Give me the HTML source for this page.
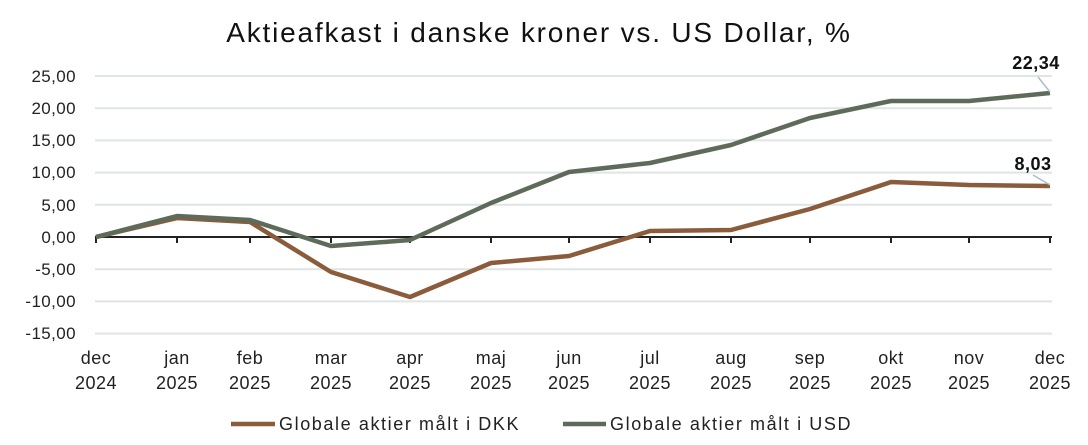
<!DOCTYPE html>
<html><head><meta charset="utf-8"><style>
body{margin:0;background:#fff}
svg{display:block;font-family:"Liberation Sans",sans-serif}
</style></head><body>
<svg width="1088" height="445" viewBox="0 0 1088 445">
<text x="539" y="42" font-size="28" letter-spacing="1.8" text-anchor="middle" fill="#111">Aktieafkast i danske kroner vs. US Dollar, %</text>
<g stroke="#dfe4e4" stroke-width="2">
<line x1="95" x2="1052" y1="76" y2="76"/><line x1="95" x2="1052" y1="108.2" y2="108.2"/>
<line x1="95" x2="1052" y1="140.4" y2="140.4"/><line x1="95" x2="1052" y1="172.6" y2="172.6"/>
<line x1="95" x2="1052" y1="204.8" y2="204.8"/><line x1="95" x2="1052" y1="269.2" y2="269.2"/>
<line x1="95" x2="1052" y1="301.4" y2="301.4"/><line x1="95" x2="1052" y1="333.6" y2="333.6"/>
</g>
<g font-size="17" letter-spacing="0.4" fill="#222" text-anchor="end">
<text x="76" y="82">25,00</text><text x="76" y="114">20,00</text><text x="76" y="146">15,00</text>
<text x="76" y="178">10,00</text><text x="76" y="211">5,00</text><text x="76" y="243">0,00</text>
<text x="76" y="275">-5,00</text><text x="76" y="307">-10,00</text><text x="76" y="339">-15,00</text>
</g>
<line x1="95" x2="1052" y1="237" y2="237" stroke="#222" stroke-width="2"/>
<g stroke="#222" stroke-width="2">
<line x1="96" x2="96" y1="237" y2="243"/><line x1="177" x2="177" y1="237" y2="243"/><line x1="250" x2="250" y1="237" y2="243"/>
<line x1="331" x2="331" y1="237" y2="243"/><line x1="410" x2="410" y1="237" y2="243"/><line x1="491" x2="491" y1="237" y2="243"/>
<line x1="569" x2="569" y1="237" y2="243"/><line x1="650" x2="650" y1="237" y2="243"/><line x1="731" x2="731" y1="237" y2="243"/>
<line x1="810" x2="810" y1="237" y2="243"/><line x1="891" x2="891" y1="237" y2="243"/><line x1="969" x2="969" y1="237" y2="243"/>
<line x1="1050" x2="1050" y1="237" y2="243"/>
</g>
<g font-size="18" letter-spacing="0.5" fill="#222" text-anchor="middle">
<text x="96" y="364">dec</text><text x="96" y="389">2024</text>
<text x="177" y="364">jan</text><text x="177" y="389">2025</text>
<text x="250" y="364">feb</text><text x="250" y="389">2025</text>
<text x="331" y="364">mar</text><text x="331" y="389">2025</text>
<text x="410" y="364">apr</text><text x="410" y="389">2025</text>
<text x="491" y="364">maj</text><text x="491" y="389">2025</text>
<text x="569" y="364">jun</text><text x="569" y="389">2025</text>
<text x="650" y="364">jul</text><text x="650" y="389">2025</text>
<text x="731" y="364">aug</text><text x="731" y="389">2025</text>
<text x="810" y="364">sep</text><text x="810" y="389">2025</text>
<text x="891" y="364">okt</text><text x="891" y="389">2025</text>
<text x="969" y="364">nov</text><text x="969" y="389">2025</text>
<text x="1050" y="364">dec</text><text x="1050" y="389">2025</text>
</g>
<polyline fill="none" stroke="#8a5c3c" stroke-width="4.5" stroke-linejoin="round" points="96,237 177,218 250,222 331,272 410,297 491,263 569,256 650,231 731,230 810,209 891,182 969,185 1050,186"/>
<polyline fill="none" stroke="#5e6b5b" stroke-width="4.5" stroke-linejoin="round" points="96,237 177,216 250,220 331,246 410,240 491,203 569,172 650,163 731,145 810,118 891,101 969,101 1050,93"/>
<g stroke="#aabfc4" stroke-width="1.5"><line x1="1038" y1="77" x2="1050" y2="92"/><line x1="1033" y1="175" x2="1050" y2="185"/></g>
<g font-size="18" font-weight="bold" fill="#111" text-anchor="middle" letter-spacing="0.5">
<text x="1036" y="69">22,34</text><text x="1033" y="170">8,03</text>
</g>
<line x1="231" x2="275" y1="424" y2="424" stroke="#8a5c3c" stroke-width="4.5"/>
<text x="279" y="430" font-size="18" letter-spacing="1.6" fill="#222">Globale aktier målt i DKK</text>
<line x1="563" x2="606" y1="424" y2="424" stroke="#5e6b5b" stroke-width="4.5"/>
<text x="610" y="430" font-size="18" letter-spacing="1.6" fill="#222">Globale aktier målt i USD</text>
</svg>
</body></html>
